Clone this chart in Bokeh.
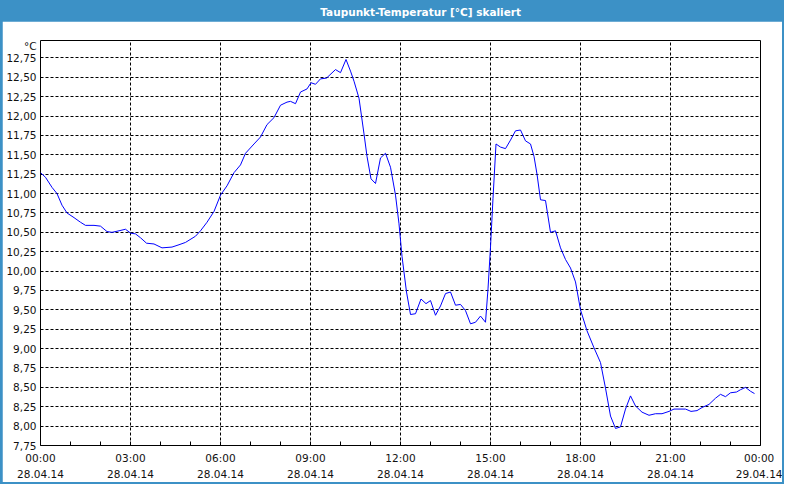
from bokeh.plotting import figure
from bokeh.models import FixedTicker, Label, Range1d
from bokeh.layouts import column
from bokeh.embed import file_html
from bokeh.resources import INLINE

# ---- data (minutes after 00:00 on 28.04.14, dew point in °C) ----
minutes = [0, 10, 23, 33, 43, 53, 67, 80, 90, 107, 120, 133, 143, 157, 170, 180,
           190, 200, 212, 227, 243, 263, 277, 290, 310, 320, 333, 347, 360, 373,
           387, 400, 410, 427, 440, 453, 467, 480, 493, 500, 510, 520, 533, 541,
           550, 560, 572, 590, 600, 611, 620, 627, 637, 647, 653, 661, 670, 680,
           690, 700, 710, 717, 723, 732, 740, 750, 761, 771, 780, 790, 800, 810,
           820, 830, 840, 850, 860, 870, 880, 890, 895, 900, 905, 911, 920, 930,
           940, 950, 960, 970, 980, 987, 993, 1000, 1010, 1020, 1030, 1040, 1050,
           1060, 1070, 1080, 1093, 1107, 1120, 1130, 1140, 1150, 1160, 1170, 1180,
           1190, 1203, 1217, 1230, 1243, 1257, 1267, 1283, 1290, 1301, 1313, 1323,
           1337, 1350, 1360, 1370, 1380, 1392, 1400, 1410, 1420, 1428]
dewpoint = [11.27, 11.21, 11.08, 11.00, 10.85, 10.75, 10.69, 10.63, 10.59, 10.59,
            10.58, 10.51, 10.50, 10.52, 10.54, 10.49, 10.48, 10.43, 10.36, 10.35,
            10.30, 10.31, 10.34, 10.37, 10.45, 10.52, 10.63, 10.77, 10.98, 11.10,
            11.27, 11.37, 11.52, 11.64, 11.73, 11.89, 11.98, 12.14, 12.18, 12.19,
            12.16, 12.31, 12.35, 12.43, 12.41, 12.48, 12.49, 12.60, 12.56, 12.73,
            12.58, 12.45, 12.23, 11.77, 11.48, 11.19, 11.13, 11.46, 11.52, 11.34,
            10.98, 10.61, 10.19, 9.73, 9.44, 9.45, 9.64, 9.58, 9.62, 9.43, 9.55,
            9.71, 9.73, 9.56, 9.57, 9.49, 9.32, 9.34, 9.42, 9.34, 9.77, 10.31,
            10.94, 11.64, 11.60, 11.58, 11.69, 11.81, 11.82, 11.68, 11.64, 11.48,
            11.25, 10.92, 10.91, 10.50, 10.52, 10.30, 10.15, 10.04, 9.86, 9.50,
            9.23, 9.01, 8.82, 8.49, 8.13, 7.97, 7.99, 8.22, 8.39, 8.26, 8.18, 8.14,
            8.16, 8.16, 8.19, 8.22, 8.22, 8.22, 8.19, 8.20, 8.24, 8.28, 8.36, 8.41,
            8.38, 8.43, 8.44, 8.47, 8.50, 8.45, 8.42]

x_ticks = [0, 180, 360, 540, 720, 900, 1080, 1260, 1440]
x_tick_labels = ["00:00\n28.04.14", "03:00\n28.04.14", "06:00\n28.04.14",
                 "09:00\n28.04.14", "12:00\n28.04.14", "15:00\n28.04.14",
                 "18:00\n28.04.14", "21:00\n28.04.14", "00:00\n29.04.14"]
x_minor = [60, 120, 240, 300, 420, 480, 600, 660, 780, 840, 960, 1020, 1140, 1200, 1320, 1380]
y_ticks = [7.75, 8.00, 8.25, 8.50, 8.75, 9.00, 9.25, 9.50, 9.75, 10.00, 10.25,
           10.50, 10.75, 11.00, 11.25, 11.50, 11.75, 12.00, 12.25, 12.50, 12.75]
unit_pos = 12.905
title_text = "Taupunkt-Temperatur [°C] skaliert"

BLUE = "#3C91C6"
FONT = "DejaVu Sans"
W = 780
ML, MR = 38, 22

# ---- title bar (transparent figure over the blue column background) ----
pt = figure(width=W, height=19, x_range=(0, 1), y_range=(0, 1),
            toolbar_location=None, output_backend="svg",
            x_axis_location=None, y_axis_location=None,
            min_border=0, min_border_left=ML, min_border_right=MR,
            outline_line_color=None)
pt.background_fill_alpha = 0
pt.border_fill_alpha = 0
pt.grid.visible = False
pt.add_layout(Label(x=0.528, y=0.5, text=title_text, text_align="center",
                    text_baseline="middle", text_color="white",
                    text_font=FONT, text_font_size="10.5px",
                    text_font_style="bold"))

# ---- main chart ----
p = figure(width=W, height=461, toolbar_location=None, output_backend="svg",
           x_range=Range1d(0, 1440), y_range=Range1d(7.75, 12.975),
           min_border_left=ML, min_border_right=MR, min_border_top=19,
           min_border_bottom=34, background_fill_color="white",
           border_fill_color="white", outline_line_color="black",
           outline_line_width=1)

p.line(minutes, dewpoint, line_color="#0000FF", line_width=1)

# x axis
p.xaxis.ticker = FixedTicker(ticks=x_ticks, minor_ticks=x_minor)
p.xaxis.major_label_overrides = {t: l for t, l in zip(x_ticks, x_tick_labels)}
p.xaxis.axis_line_color = None
p.xaxis.major_tick_in = 4
p.xaxis.major_tick_out = 0
p.xaxis.minor_tick_in = 4
p.xaxis.minor_tick_out = 0
p.xaxis.major_tick_line_color = "black"
p.xaxis.minor_tick_line_color = "black"
p.xaxis.major_label_standoff = 6
p.xaxis.major_label_text_font = FONT
p.xaxis.major_label_text_font_size = "10.5px"
p.xaxis.major_label_text_color = "#111111"
p.xaxis.major_label_text_line_height = 1.35

# y axis
y_all = y_ticks + [unit_pos]
p.yaxis.ticker = FixedTicker(ticks=y_all)
ovr = {t: f"{t:.2f}".replace(".", ",") for t in y_ticks}
ovr[unit_pos] = "°C"
p.yaxis.major_label_overrides = ovr
p.yaxis.axis_line_color = None
p.yaxis.major_tick_in = 0
p.yaxis.major_tick_out = 0
p.yaxis.minor_tick_line_color = None
p.yaxis.major_label_standoff = 4
p.yaxis.major_label_text_font = FONT
p.yaxis.major_label_text_font_size = "10.5px"
p.yaxis.major_label_text_color = "#111111"

# grids
p.xgrid.ticker = FixedTicker(ticks=x_ticks)
p.ygrid.ticker = FixedTicker(ticks=y_ticks)
for g in (p.xgrid, p.ygrid):
    g.grid_line_color = "black"
    g.grid_line_dash = "3 2"
    g.grid_line_width = 1
    g.grid_line_alpha = 1.0

layout = column(pt, p, spacing=0,
                styles={"border": f"2px solid {BLUE}", "background-color": BLUE})

open("out.html", "w").write(file_html(layout, INLINE))
